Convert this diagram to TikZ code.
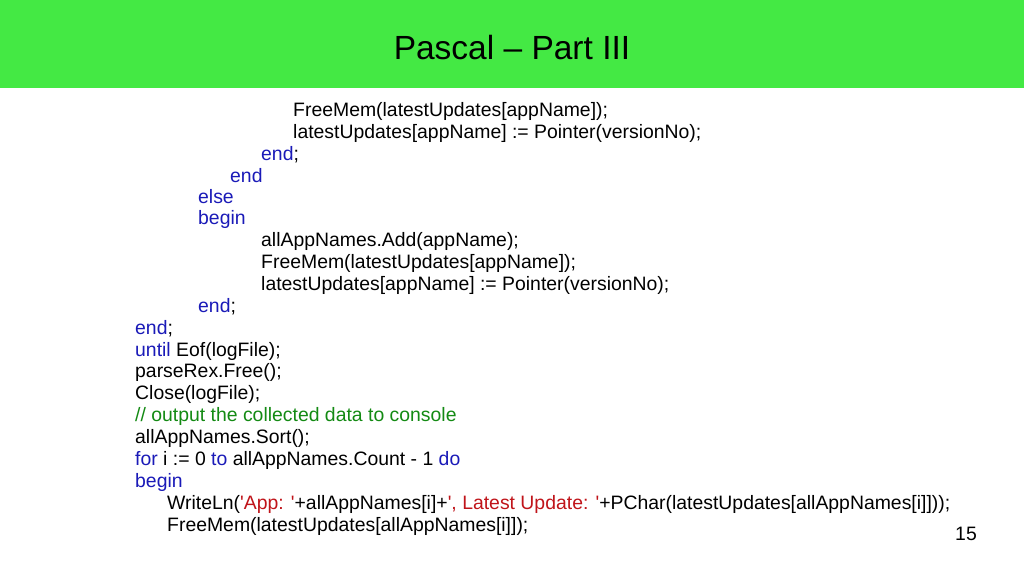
\documentclass[tikz,border=0pt]{standalone}
\usepackage{fontspec}
\setmainfont{Liberation Sans}
\definecolor{slidegreen}{HTML}{44E944}
\definecolor{kwblue}{HTML}{1A1AB8}
\definecolor{strred}{HTML}{C0141A}
\definecolor{cmtgreen}{HTML}{138A13}
\newcommand{\kw}[1]{\textcolor{kwblue}{#1}}
\newcommand{\str}[1]{\textcolor{strred}{#1}}
\newcommand{\q}{\textquotesingle}
\begin{document}
\begin{tikzpicture}[x=1pt,y=-1pt,
	code/.style = {anchor=west, inner sep=0pt, font=\fontsize{19.4}{22}\selectfont}]
	
	\useasboundingbox[fill=white] (0,0) rectangle (1024,576);
	\fill[slidegreen] (0,0) rectangle (1024,88);
	\node[font=\fontsize{33.5}{38}\selectfont] (title) at (512,48) {Pascal -- Part III};
	
	\node[code] (l1) at (293,111) {FreeMem(latestUpdates[appName]);};
	\node[code] (l2) at (293,133) {latestUpdates[appName] := Pointer(versionNo);};
	\node[code] (l3) at (261,155) {\kw{end};};
	\node[code] (l4) at (230,176) {\kw{end}};
	\node[code] (l5) at (198,197) {\kw{else}};
	\node[code] (l6) at (198,219) {\kw{begin}};
	\node[code] (l7) at (261,241) {allAppNames.Add(appName);};
	\node[code] (l8) at (261,263) {FreeMem(latestUpdates[appName]);};
	\node[code] (l9) at (261,285) {latestUpdates[appName] := Pointer(versionNo);};
	\node[code] (l10) at (198,307) {\kw{end};};
	\node[code] (l11) at (135,329) {\kw{end};};
	\node[code] (l12) at (135,351) {\kw{until} Eof(logFile);};
	\node[code] (l13) at (135,372) {parseRex.Free();};
	\node[code] (l14) at (135,394) {Close(logFile);};
	\node[code,text=cmtgreen] (l15) at (135,416) {// output the collected data to console};
	\node[code] (l16) at (135,438) {allAppNames.Sort();};
	\node[code] (l17) at (135,460) {\kw{for} i := 0 \kw{to} allAppNames.Count - 1 \kw{do}};
	\node[code] (l18) at (135,482) {\kw{begin}};
	\node[code] (l19) at (167,504) {WriteLn(\str{\q App: \q}+allAppNames[i]+\str{\q, Latest Update: \q}+PChar(latestUpdates[allAppNames[i]]));};
	\node[code] (l20) at (167,526) {FreeMem(latestUpdates[allAppNames[i]]);};
	
	\node[code] (page) at (955,534) {15};
\end{tikzpicture}
\end{document}
